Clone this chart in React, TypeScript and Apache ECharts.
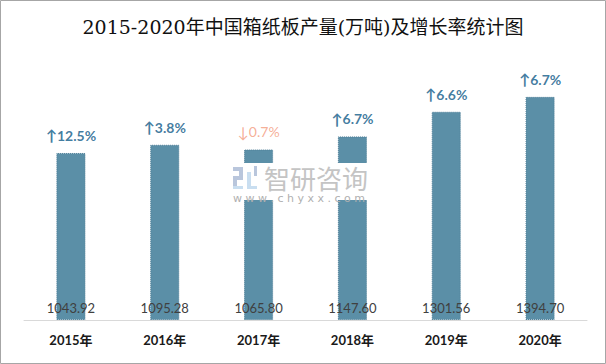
import React, { useEffect, useRef } from "react";
import * as echarts from "echarts";

const categories = ["2015年", "2016年", "2017年", "2018年", "2019年", "2020年"];
const production = [1043.92, 1095.28, 1065.8, 1147.6, 1301.56, 1394.7];
const growth = [12.5, 3.8, -0.7, 6.7, 6.6, 6.7];

export default function App() {
  const ref = useRef<HTMLDivElement>(null);
  useEffect(() => {
    const chart = echarts.init(ref.current!, null, { renderer: "svg" });
    const font = "Lato, 'Open Sans', 'Noto Sans CJK SC', sans-serif";
    const Z = 50;
    const logoA = "#b9c6dc";
    const logoB = "#c9def0";
    chart.setOption({
      animation: false,
      backgroundColor: "#ffffff",
      title: {
        text: "2015-2020年中国箱纸板产量(万吨)及增长率统计图",
        left: "center",
        top: 12,
        textStyle: {
          fontFamily: "'DejaVu Serif', 'Noto Sans CJK SC', serif",
          fontSize: 19,
          fontWeight: "normal",
          color: "#111111",
        },
      },
      grid: { left: 24, right: 19, top: 64, bottom: 44 },
      xAxis: {
        type: "category",
        data: categories,
        axisLine: { lineStyle: { color: "#d9d9d9", width: 1 } },
        axisTick: { show: false },
        axisLabel: {
          margin: 13,
          fontFamily: font,
          fontSize: 13,
          fontWeight: "bold",
          color: "#1a1a1a",
        },
      },
      yAxis: {
        type: "value",
        min: 0,
        max: 1600,
        show: false,
        splitLine: { show: false },
      },
      series: [
        {
          type: "bar",
          data: production,
          barWidth: "31%",
          itemStyle: { color: "#5b8fa7", borderColor: "#4f7f97", borderWidth: 1, borderType: "dotted" },
          label: {
            show: true,
            position: "insideBottom",
            distance: 6,
            fontFamily: font,
            fontSize: 13,
            color: "#404040",
            formatter: (p: any) => p.value.toFixed(2),
          },
          z: 2,
        },
        {
          type: "scatter",
          data: production,
          symbolSize: 0,
          silent: true,
          label: {
            show: true,
            position: "top",
            distance: 10,
            formatter: (p: any) => {
              const g = growth[p.dataIndex];
              return g >= 0 ? `{ua|↑}{u|${g.toFixed(1)}%}` : `{da|↓}{d|${Math.abs(g).toFixed(1)}%}`;
            },
            rich: {
              ua: { fontFamily: font, fontSize: 15, color: "#0f5a87", fontWeight: "bold" },
              u: { fontFamily: font, fontSize: 14, color: "#0f5a87", fontWeight: "bold" },
              da: { fontFamily: font, fontSize: 15, color: "#f39a7c" },
              d: { fontFamily: font, fontSize: 14, color: "#f39a7c" },
            },
          },
          z: 3,
        },
      ],
      graphic: [
        {
          type: "rect",
          shape: { x: 0.5, y: 0.5, width: 605, height: 363 },
          style: { fill: "none", stroke: "#a6a6a6", lineWidth: 1 },
          silent: true,
          z: 100,
        },
        { type: "rect", z: Z, silent: true, shape: { x: 229, y: 163, width: 150, height: 37 }, style: { fill: "#ffffff" } },
        { type: "rect", z: Z + 1, shape: { x: 233, y: 167, width: 10, height: 4 }, style: { fill: logoA } },
        { type: "rect", z: Z + 1, shape: { x: 239, y: 171, width: 4, height: 7 }, style: { fill: logoA } },
        { type: "rect", z: Z + 1, shape: { x: 233, y: 176, width: 10, height: 4 }, style: { fill: logoA } },
        { type: "rect", z: Z + 1, shape: { x: 233, y: 180, width: 4, height: 7 }, style: { fill: logoA } },
        { type: "rect", z: Z + 1, shape: { x: 233, y: 186, width: 10, height: 3 }, style: { fill: logoB } },
        { type: "rect", z: Z + 1, shape: { x: 247, y: 172, width: 4, height: 17 }, style: { fill: logoB } },
        { type: "rect", z: Z + 1, shape: { x: 247, y: 186, width: 10, height: 3 }, style: { fill: logoB } },
        { type: "rect", z: Z + 1, shape: { x: 254, y: 166, width: 3, height: 10 }, style: { fill: logoA } },
        {
          type: "text",
          z: Z + 1,
          x: 264,
          y: 164,
          style: {
            text: "智研咨询",
            align: "left",
            verticalAlign: "top",
            fontFamily: "'Noto Sans CJK SC', sans-serif",
            fontSize: 26,
            lineHeight: 26,
            fill: "#c4c4c4",
          },
        },
        {
          type: "text",
          z: Z + 1,
          x: 233,
          y: 193,
          style: {
            text: "w w w . c h y x x . c o m",
            align: "left",
            verticalAlign: "top",
            fontFamily: "'DejaVu Sans', sans-serif",
            fontSize: 11,
            lineHeight: 11,
            fill: "#b0b0b0",
          },
        },
      ],
    });
    return () => chart.dispose();
  }, []);
  return (
    <div
      ref={ref}
      style={{ position: "fixed", left: 0, top: 0, width: 606, height: 364 }}
    />
  );
}
